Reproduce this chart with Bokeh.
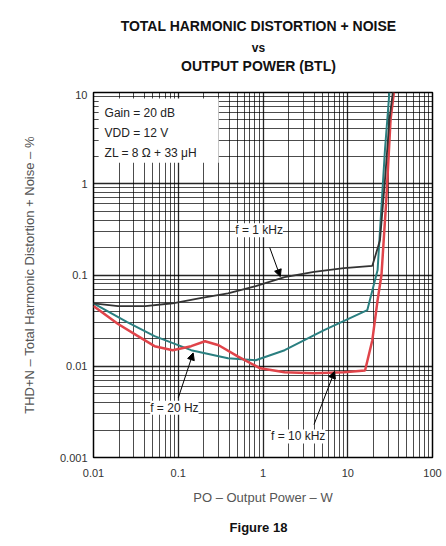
from bokeh.plotting import figure
from bokeh.layouts import column
from bokeh.models import (FixedTicker, CustomJSTickFormatter, Label, Arrow,
                          NormalHead, BoxAnnotation)
from bokeh.core.properties import value
from bokeh.embed import file_html
from bokeh.resources import INLINE

# ---- data ----
po_1k = [0.01, 0.0195, 0.041, 0.086, 0.182, 0.386, 0.82, 1.8, 4.0, 9.0, 19.5, 24.0, 27.5, 31.0, 34.0]
thd_1k = [0.049, 0.0456, 0.0456, 0.049, 0.0558, 0.063, 0.0757, 0.095, 0.108, 0.119, 0.126, 0.24, 1.1, 5.0, 10.0]

po_20 = [0.01, 0.025, 0.0525, 0.142, 0.386, 0.82, 1.8, 5.26, 17.0, 22.5, 27.5, 31.0]
thd_20 = [0.049, 0.0305, 0.0214, 0.015, 0.01225, 0.01164, 0.015, 0.0249, 0.0412, 0.1135, 2.37, 10.0]

po_10k = [0.01, 0.0195, 0.032, 0.0525, 0.086, 0.142, 0.207, 0.30, 0.497, 0.927, 1.8, 4.0, 9.0,
          16.0, 19.5, 22.5, 25.0, 28.5, 32.0, 35.0]
thd_10k = [0.0456, 0.029, 0.0219, 0.0166, 0.015, 0.0166, 0.0188, 0.017, 0.0129, 0.0095, 0.0086,
           0.0084, 0.0086, 0.009, 0.0193, 0.053, 0.1, 0.667, 5.04, 10.0]

x_ticks = [0.01, 0.1, 1, 10, 100]
y_ticks = [0.001, 0.01, 0.1, 1, 10]

title_lines = ["TOTAL HARMONIC DISTORTION + NOISE", "vs", "OUTPUT POWER (BTL)"]
caption = "Figure 18"

W = 446
BL, BR = 93, 14
FONT = "Liberation Sans"

# ---- heading strip (frame aligned with the chart frame) ----
hdr = figure(width=W, height=90, x_range=(0, 339), y_range=(0, 90),
             output_backend="svg", toolbar_location=None, title_location=None,
             x_axis_location=None, y_axis_location=None,
             min_border_left=BL, min_border_right=BR, min_border_top=0, min_border_bottom=0)
hdr.grid.visible = False
hdr.outline_line_color = None
for txt, yy, fs in zip(title_lines, [65, 43, 25], ["14px", "12px", "14px"]):
    hdr.text(x=[165], y=[yy], text=[txt], text_font=value(FONT), text_font_size=fs,
             text_font_style="bold", text_align="center", text_baseline="middle",
             text_color="#111111")

# ---- main chart ----
p = figure(width=W, height=419, x_axis_type="log", y_axis_type="log",
           x_range=(0.01, 100), y_range=(0.001, 10),
           output_backend="svg", toolbar_location=None, title_location=None,
           min_border_left=BL, min_border_right=BR, min_border_bottom=52,
           min_border_top=2)

p.background_fill_color = "white"
p.border_fill_color = "white"
p.outline_line_color = "black"
p.outline_line_width = 1.5

minor_x = [m * d for d in [0.01, 0.1, 1, 10] for m in range(2, 10)]
minor_y = [m * d for d in [0.001, 0.01, 0.1, 1] for m in range(2, 10)]
p.xaxis.ticker = FixedTicker(ticks=x_ticks, minor_ticks=minor_x)
p.yaxis.ticker = FixedTicker(ticks=y_ticks, minor_ticks=minor_y)
fmt = CustomJSTickFormatter(code="return tick >= 1 ? tick.toFixed(0) : tick.toPrecision(1);")
p.xaxis.formatter = fmt
p.yaxis.formatter = fmt

for ax in (p.xaxis, p.yaxis):
    ax.major_tick_out = 0
    ax.minor_tick_out = 0
    ax.major_tick_in = 0
    ax.minor_tick_in = 0
    ax.axis_line_color = None
    ax.major_label_text_font = FONT
    ax.major_label_text_font_size = "11px"
    ax.major_label_text_color = "#333333"
    ax.axis_label_text_font = FONT
    ax.axis_label_text_font_style = "normal"
    ax.axis_label_text_color = "#555555"

p.xaxis.major_label_standoff = 11
p.yaxis.major_label_standoff = 6
p.xaxis.axis_label = "PO – Output Power – W"
p.xaxis.axis_label_text_font_size = "13px"
p.xaxis.axis_label_standoff = 10
p.yaxis.axis_label = "THD+N – Total Harmonic Distortion + Noise – %"
p.yaxis.axis_label_text_font_size = "13px"
p.yaxis.axis_label_standoff = 20

for g in (p.xgrid, p.ygrid):
    g.grid_line_color = "black"
    g.grid_line_alpha = 0.85
    g.grid_line_width = 1.3
    g.minor_grid_line_color = "black"
    g.minor_grid_line_alpha = 0.7
    g.minor_grid_line_width = 1.0

# curves
p.line(po_20, thd_20, line_color="#2a7f80", line_width=2)
p.line(po_10k, thd_10k, line_color="#e0444a", line_width=2.5)
p.line(po_1k, thd_1k, line_color="#333333", line_width=1.8)

# condition box
p.add_layout(BoxAnnotation(left=0.0115, right=0.3, bottom=1.7, top=8.6,
                           fill_color="white", fill_alpha=1, line_color=None, level="glyph"))
for txt, yv in [("Gain = 20 dB", 6.0), ("VDD = 12 V", 3.6), ("ZL = 8 Ω + 33 μH", 2.19)]:
    p.add_layout(Label(x=0.0135, y=yv, text=txt, text_font=FONT,
                       text_font_size="12px", text_baseline="middle", text_color="#222222"))

# curve labels
p.add_layout(Label(x=0.9, y=0.31, text="f = 1 kHz", text_font=FONT,
                   text_font_size="12px", text_baseline="middle", text_align="center",
                   background_fill_color="white", text_color="#222222"))
p.add_layout(Arrow(end=NormalHead(size=7, fill_color="black", line_color="black"),
                   x_start=1.2, y_start=0.2, x_end=1.6, y_end=0.096,
                   line_color="black", line_width=1))

p.add_layout(Label(x=0.09, y=0.0035, text="f = 20 Hz", text_font=FONT,
                   text_font_size="12px", text_baseline="middle", text_align="center",
                   background_fill_color="white", text_color="#222222"))
p.add_layout(Arrow(end=NormalHead(size=7, fill_color="black", line_color="black"),
                   x_start=0.1, y_start=0.0045, x_end=0.15, y_end=0.014,
                   line_color="black", line_width=1))

p.add_layout(Label(x=2.6, y=0.0017, text="f = 10 kHz", text_font=FONT,
                   text_font_size="12px", text_baseline="middle", text_align="center",
                   background_fill_color="white", text_color="#222222"))
p.add_layout(Arrow(end=NormalHead(size=7, fill_color="black", line_color="black"),
                   x_start=4.0, y_start=0.0023, x_end=7.0, y_end=0.0088,
                   line_color="black", line_width=1))

# ---- caption strip ----
ftr = figure(width=W, height=31, x_range=(0, 339), y_range=(0, 31),
             output_backend="svg", toolbar_location=None, title_location=None,
             x_axis_location=None, y_axis_location=None,
             min_border_left=BL, min_border_right=BR, min_border_top=0, min_border_bottom=0)
ftr.grid.visible = False
ftr.outline_line_color = None
ftr.text(x=[165], y=[13], text=[caption], text_font=value(FONT), text_font_size="13px",
         text_font_style="bold", text_align="center", text_baseline="middle",
         text_color="#111111")

layout = column(hdr, p, ftr, spacing=0)
open("out.html", "w").write(file_html(layout, INLINE))
